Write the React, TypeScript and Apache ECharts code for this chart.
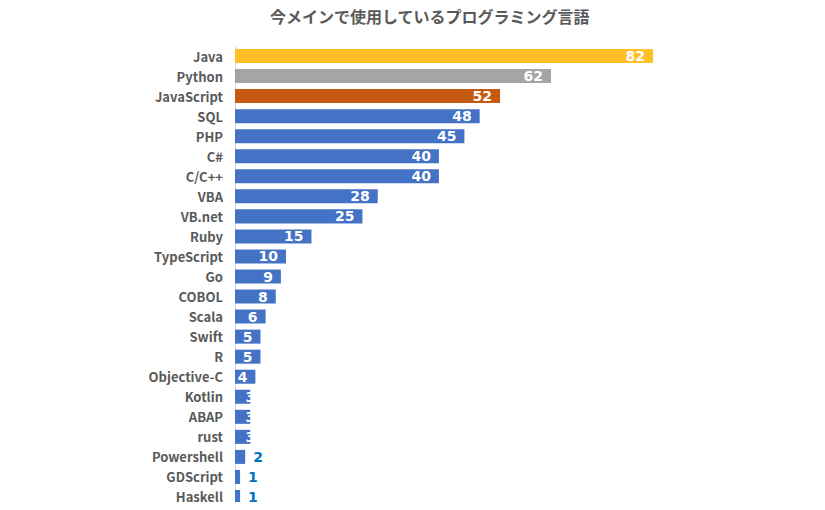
import React, { useEffect, useRef } from "react";
import * as echarts from "echarts";

const languages = [
  "Java", "Python", "JavaScript", "SQL", "PHP", "C#", "C/C++", "VBA", "VB.net",
  "Ruby", "TypeScript", "Go", "COBOL", "Scala", "Swift", "R", "Objective-C",
  "Kotlin", "ABAP", "rust", "Powershell", "GDScript", "Haskell",
];
const counts = [82, 62, 52, 48, 45, 40, 40, 28, 25, 15, 10, 9, 8, 6, 5, 5, 4, 3, 3, 3, 2, 1, 1];
const highlightColors: Record<string, string> = {
  Java: "#FFC02A",
  Python: "#A5A5A5",
  JavaScript: "#C55A11",
};

const FONT = "'Noto Sans CJK JP', 'Noto Sans', sans-serif";
const NUM_FONT = "'DejaVu Sans', sans-serif";

const App: React.FC = () => {
  const chartRef = useRef<HTMLDivElement | null>(null);

  useEffect(() => {
    const dom = chartRef.current;
    if (!dom) return;
    const chart = echarts.init(dom, undefined, { renderer: "svg" });

    const data = counts.map((v, i) => {
      const small = v < 3;
      return {
        value: v,
        itemStyle: { color: highlightColors[languages[i]] || "#4472C4" },
        label: small
          ? { position: "right", color: "#0070C0", distance: 8 }
          : { position: "insideRight", color: "#FFFFFF", distance: v <= 3 ? -5 : 8 },
      };
    });

    chart.setOption({
      animation: false,
      title: {
        text: "今メインで使用しているプログラミング言語",
        left: 265,
        top: 3,
        textStyle: { fontFamily: FONT, fontSize: 16, fontWeight: "bold", color: "#595959" },
      },
      grid: { left: 235, right: 172, top: 46, bottom: 3, containLabel: false },
      xAxis: {
        type: "value",
        min: 0,
        max: 82,
        show: false,
      },
      yAxis: {
        type: "category",
        inverse: true,
        data: languages,
        axisLine: { show: true, lineStyle: { color: "#D9D9D9", width: 1 } },
        axisTick: { show: false },
        axisLabel: {
          margin: 12,
          fontFamily: FONT,
          fontSize: 13,
          fontWeight: "bold",
          color: "#595959",
        },
      },
      series: [
        {
          type: "bar",
          data,
          barCategoryGap: "30%",
          label: {
            show: true,
            fontFamily: NUM_FONT,
            fontSize: 14,
            fontWeight: "bold",
          },
        },
      ],
    });

    return () => chart.dispose();
  }, []);

  return <div ref={chartRef} style={{ width: 825, height: 510, margin: -8 }} />;
};

export default App;
